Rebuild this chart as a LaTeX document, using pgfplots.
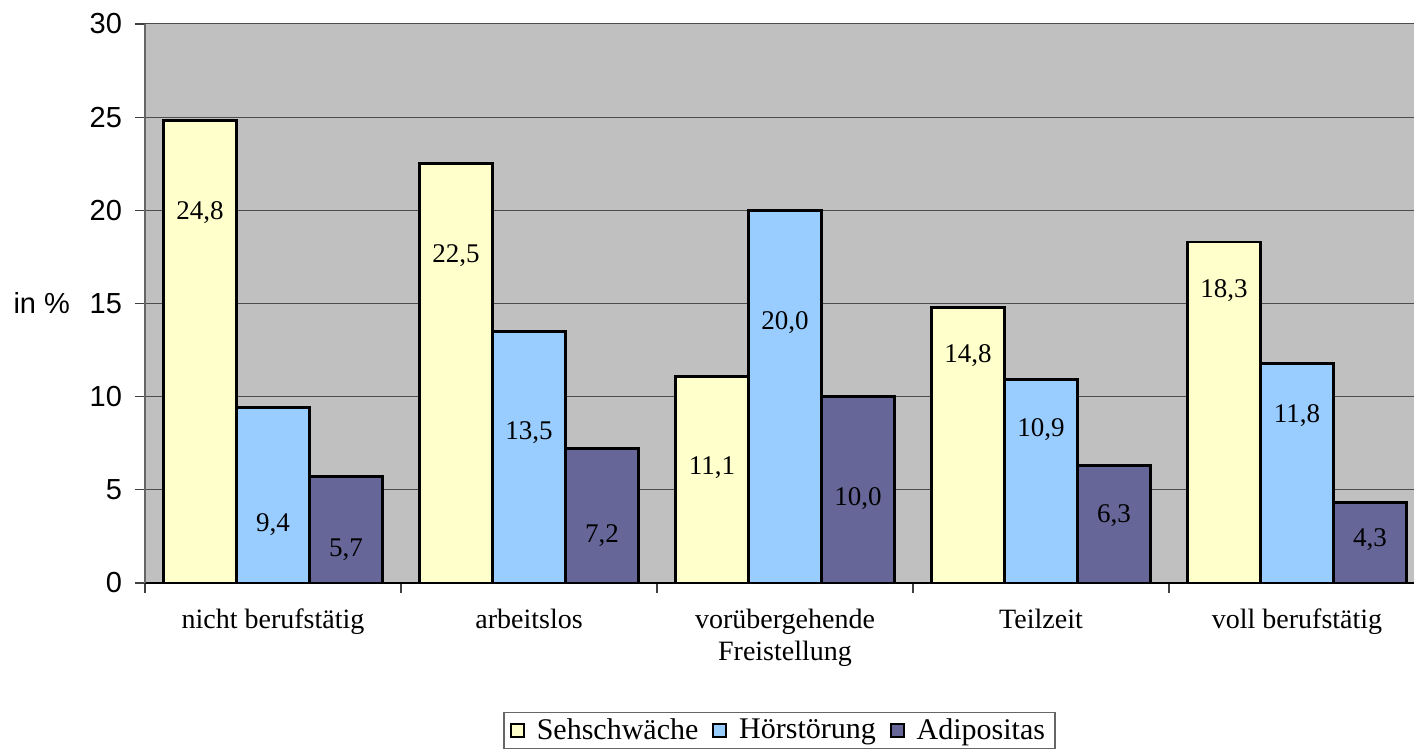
\documentclass[border=0pt]{standalone}
\usepackage{fontspec}
\setmainfont{Liberation Serif}
\newfontfamily\arial{Liberation Sans}
\usepackage{pgfplots}
\pgfplotsset{compat=1.18}
\definecolor{cy}{HTML}{FFFFCC}
\definecolor{cb}{HTML}{99CCFF}
\definecolor{cp}{HTML}{666699}
\definecolor{bg}{HTML}{C0C0C0}
\pgfplotsset{
  mybar/.style={ybar, bar width=0.285, draw=black, line width=1.4pt,
    legend image code/.code={\draw[##1,/tikz/line width=0.9pt] (0pt,-3.25pt) rectangle (6.5pt,3.25pt);}},
  mylab/.style={forget plot, only marks, mark=none, nodes near coords, point meta=explicit symbolic,
    nodes near coords style={anchor=base, yshift=-4.6pt, font=\fontsize{13.5}{16}\selectfont, text=black}}
}
\begin{document}
\begin{tikzpicture}
\useasboundingbox (0,0) rectangle (707pt,376.5pt);
\begin{axis}[
  at={(72.5pt,85pt)}, anchor=south west,
  scale only axis, width=634.5pt, height=279.5pt,
  xmin=-0.5, xmax=4.457, ymin=0, ymax=30,
  axis background/.style={fill=bg},
  axis lines*=left,
  axis line style={-},
  y axis line style={draw=black!60, line width=0.9pt},
  x axis line style={draw=black, line width=0.9pt},
  ytick={0,5,...,30},
  ymajorgrids, grid style={draw=black!70, line width=0.5pt},
  tick align=outside,
  major tick length=5pt,
  tick style={draw=black!75, line width=0.6pt},
  xtick={-0.5,0.5,...,4.5}, xticklabels={},
  extra x ticks={0,1,2,3,4},
  extra x tick labels={nicht berufstätig, arbeitslos, {vorübergehende\\Freistellung}, Teilzeit, voll berufstätig},
  extra x tick style={major tick length=0pt, grid=none,
    xticklabel style={font=\fontsize{14}{16}\selectfont, align=center, yshift=-9.5pt}},
  /pgf/number format/assume math mode=true,
  yticklabel style={font=\arial\fontsize{14.5}{17}\selectfont, xshift=-3pt},
  ylabel={in \%},
  every axis y label/.style={at={(ticklabel cs:0.5,3pt)}, anchor=east, font=\arial\fontsize{14.5}{17}\selectfont},
  legend columns=3,
  legend style={at={(axis description cs:0.5,-0.2308)}, anchor=north,
    draw=black!60, line width=0.6pt, font=\fontsize{15}{17}\selectfont,
    inner xsep=3pt, inner ysep=1pt,
    /tikz/every odd column/.append style={column sep=4pt},
    /tikz/every even column/.append style={column sep=5pt}},
  legend cell align=left,
]
\addplot[mybar, bar shift=-0.285, fill=cy] coordinates {(0,24.8)(1,22.5)(2,11.1)(3,14.8)(4,18.3)};
\addlegendentry{Sehschwäche}
\addplot[mybar, bar shift=0, fill=cb] coordinates {(0,9.4)(1,13.5)(2,20.0)(3,10.9)(4,11.8)};
\addlegendentry{Hörstörung}
\addplot[mybar, bar shift=0.285, fill=cp] coordinates {(0,5.7)(1,7.2)(2,10.0)(3,6.3)(4,4.3)};
\addlegendentry{Adipositas}
\addplot[mylab] table[meta=l] {
x y l
-0.285 20.0 24,8
0.715 17.71 22,5
1.715 6.33 11,1
2.715 12.34 14,8
3.715 15.83 18,3
};
\addplot[mylab] table[meta=l] {
x y l
0 3.27 9,4
1 8.21 13,5
2 14.12 20,0
3 8.37 10,9
4 9.12 11,8
};
\addplot[mylab] table[meta=l] {
x y l
0.285 1.93 5,7
1.285 2.68 7,2
2.285 4.67 10,0
3.285 3.76 6,3
4.285 2.47 4,3
};
\end{axis}
\end{tikzpicture}
\end{document}
